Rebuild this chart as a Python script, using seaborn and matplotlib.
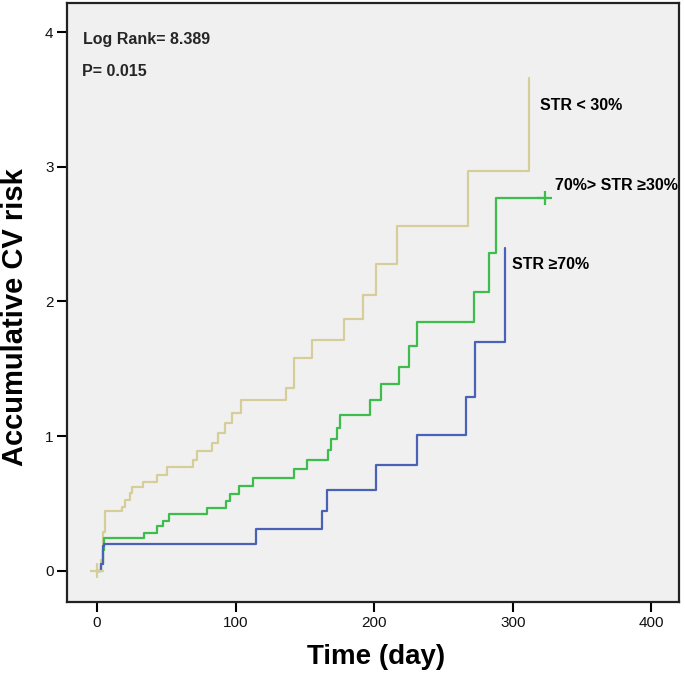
import numpy as np
import pandas as pd
import matplotlib
matplotlib.use("Agg")
import matplotlib.pyplot as plt
import seaborn as sns

# ---- data ----
groups = ["STR < 30%", "70%> STR \u226530%", "STR \u226570%"]

t_low = [0, 3, 4, 6, 17.8, 20.2, 23.8, 25, 33.4, 43.1, 50.3, 69.5, 72, 82.8, 87.6,
         92.4, 97.2, 104, 136.5, 142.2, 155.3, 178, 192.3, 201.4, 216.4, 267.4, 312.1]
h_low = [0, 0.08, 0.29, 0.44, 0.475, 0.525, 0.575, 0.62, 0.66, 0.71, 0.77, 0.82, 0.89,
         0.95, 1.02, 1.095, 1.175, 1.265, 1.36, 1.58, 1.715, 1.87, 2.05, 2.275, 2.56,
         2.97, 3.66]

t_mid = [0, 3, 4, 5, 33.9, 43.1, 47.4, 52.2, 79, 93.4, 96.3, 102.2, 112.2, 142.2,
         151.8, 167, 169, 173, 175, 197.1, 205, 218, 225.5, 230.8, 271.7, 283, 288, 325]
h_mid = [0, 0.05, 0.15, 0.24, 0.28, 0.33, 0.37, 0.42, 0.465, 0.52, 0.57, 0.63, 0.69,
         0.755, 0.825, 0.9, 0.975, 1.06, 1.16, 1.265, 1.385, 1.515, 1.67, 1.85, 2.07,
         2.36, 2.77, 2.77]

t_high = [0, 3, 4, 5, 114.8, 162.5, 165.8, 201.2, 230.8, 266.2, 272.9, 294.1]
h_high = [0, 0.05, 0.18, 0.196, 0.31, 0.446, 0.6, 0.785, 1.008, 1.29, 1.70, 2.395]

censor_group = [groups[0], groups[1]]
censor_t = [0, 323]
censor_h = [0, 2.77]

stat_text = ["Log Rank= 8.389", "P= 0.015"]
x_label = "Time (day)"
y_label = "Accumulative CV risk"
x_ticks = [0, 100, 200, 300, 400]
y_ticks = [0, 1, 2, 3, 4]

colors = {groups[0]: "#d5ce98", groups[1]: "#3dbd4c", groups[2]: "#4a62b6"}

# ---- build long table ----
df = pd.concat([
    pd.DataFrame({"time": t_low, "risk": h_low, "group": groups[0]}),
    pd.DataFrame({"time": t_mid, "risk": h_mid, "group": groups[1]}),
    pd.DataFrame({"time": t_high, "risk": h_high, "group": groups[2]}),
], ignore_index=True)
cens = pd.DataFrame({"time": censor_t, "risk": censor_h, "group": censor_group})

sns.set_theme(style="ticks")
plt.rcParams["font.family"] = ["Liberation Sans", "DejaVu Sans"]

fig = plt.figure(figsize=(6.85, 6.76), dpi=100)
ax = fig.add_axes([66.7 / 685, 1 - 602.3 / 676, (679 - 66.7) / 685, (602.3 - 2.7) / 676])
ax.set_facecolor("#f0f0f0")

sns.lineplot(data=df, x="time", y="risk", hue="group", palette=colors,
             estimator=None, sort=False, drawstyle="steps-post",
             linewidth=1.6, legend=False, ax=ax)
sns.scatterplot(data=cens, x="time", y="risk", hue="group", palette=colors,
                marker="+", s=110, linewidth=1.6, legend=False, ax=ax, zorder=5)

ax.set_xlim(-21.9, 420)
ax.set_ylim(-0.235, 4.22)
ax.set_xticks(x_ticks)
ax.set_yticks(y_ticks)
ax.tick_params(axis="both", length=7, width=1.5, color="black", labelsize=11,
               labelcolor="#111111")
ax.tick_params(axis="x", pad=3.0)
ax.tick_params(axis="y", pad=2.5)
for sp in ax.spines.values():
    sp.set_visible(True)
    sp.set_color("#222222")
    sp.set_linewidth(1.6)

ax.set_xlabel("")
ax.set_ylabel("")
fig.text(376 / 685, 1 - 657 / 676, x_label, fontsize=20, fontweight="bold",
         ha="center", va="center", color="black")
fig.text(15.5 / 685, 1 - 317 / 676, y_label, fontsize=21, fontweight="bold",
         ha="center", va="center", rotation=90, color="black")

fig.text(83.3 / 685, 1 - 39.5 / 676, stat_text[0], fontsize=11.5, fontweight="bold",
         va="center", ha="left")
fig.text(82.3 / 685, 1 - 71.7 / 676, stat_text[1], fontsize=11.5, fontweight="bold",
         va="center", ha="left")

label_pos = {groups[0]: (540, 105.7), groups[1]: (555, 186), groups[2]: (511.7, 264.3)}
for g in groups:
    px, py = label_pos[g]
    fig.text(px / 685, 1 - py / 676, g, fontsize=11.5, fontweight="bold",
             va="center", ha="left", color="black")

fig.savefig("out.png", dpi=100, facecolor="white")
